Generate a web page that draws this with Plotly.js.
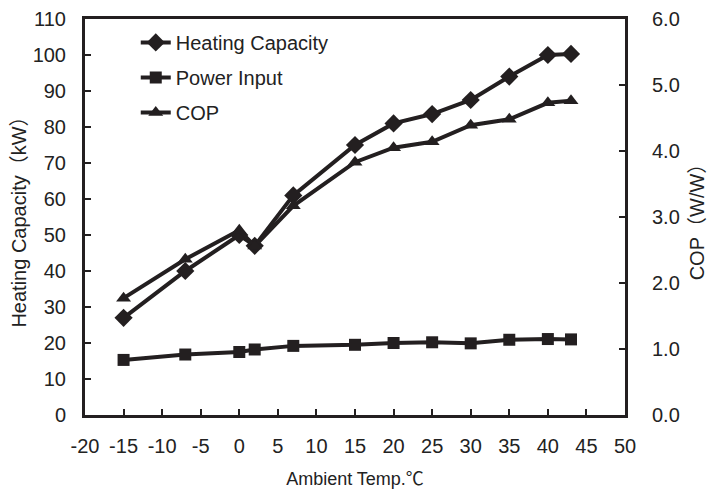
<!DOCTYPE html>
<html><head><meta charset="utf-8">
<script src="https://cdn.plot.ly/plotly-3.0.1.min.js"></script>
<style>body{margin:0;background:#fff}#c{width:723px;height:492px}</style>
</head><body><div id="c"></div>
<script>
const temps = [-15, -7, 0, 2, 7, 15, 20, 25, 30, 35, 40, 43];
const heatingCapacity = [27, 40, 50, 47, 61, 75, 81, 83.6, 87.5, 94, 100, 100.3];
const powerInput = [15.3, 16.8, 17.5, 18.2, 19.2, 19.5, 20, 20.2, 19.9, 20.9, 21.1, 21];
const cop = [1.77, 2.36, 2.8, 2.56, 3.17, 3.83, 4.05, 4.14, 4.39, 4.48, 4.73, 4.76];
const names = ['Heating Capacity', 'Power Input', 'COP'];
const xTickVals = [-20, -15, -10, -5, 0, 5, 10, 15, 20, 25, 30, 35, 40, 45, 50];
const xTickText = ['-20', '-15', '-10', '-5', '0', '5', '10', '15', '20', '25', '30', '35', '40', '45', '50'];

const fam = 'Liberation Sans, Noto Sans CJK SC, Arial, sans-serif';
const txt = '#222';
const line = {color: '#231f20', width: 4};
const traces = [
  {x: temps, y: heatingCapacity, name: names[0], legendgroup: 'a', mode: 'lines+markers', line: line, marker: {symbol: 'diamond', size: 14, color: '#231f20'}},
  {x: temps, y: powerInput, name: names[1], legendgroup: 'b', mode: 'lines+markers', line: line, marker: {symbol: 'square', size: 12, color: '#231f20'}},
  {x: temps, y: cop, name: names[2], legendgroup: 'c', mode: 'lines+markers', yaxis: 'y2', line: line, marker: {symbol: 'triangle-up', size: 13, color: '#231f20'}}
];
const axCommon = {showgrid: false, zeroline: false, showline: true, linecolor: '#231f20', linewidth: 3,
  ticks: 'inside', ticklen: 6, tickwidth: 2, tickcolor: '#231f20', tickfont: {family: fam, size: 20, color: txt}};
const layout = {
  width: 723, height: 492,
  margin: {l: 85, r: 98, t: 19, b: 77},
  paper_bgcolor: '#fff', plot_bgcolor: '#fff',
  font: {family: fam, size: 18, color: txt},
  showlegend: true,
  legend: {x: 0.094, y: 0.99, xanchor: 'left', yanchor: 'top', bgcolor: 'rgba(0,0,0,0)',
    font: {family: fam, size: 20, color: txt}, tracegroupgap: 6, traceorder: 'grouped'},
  xaxis: Object.assign({}, axCommon, {range: [-20, 50], tickvals: xTickVals, ticktext: xTickText, mirror: true,
    ticklabelstandoff: 11,
    title: {text: 'Ambient Temp.℃', font: {family: fam, size: 18, color: txt}, standoff: 17}}),
  yaxis: Object.assign({}, axCommon, {range: [0, 110], dtick: 10, ticklabelstandoff: 12,
    title: {text: 'Heating Capacity（kW）', font: {family: fam, size: 20, color: txt}, standoff: 1}}),
  yaxis2: Object.assign({}, axCommon, {range: [0, 6], dtick: 1, tickformat: '.1f', overlaying: 'y', side: 'right',
    ticklabelstandoff: 20,
    title: {text: 'COP（W/W）', font: {family: fam, size: 20, color: txt}, standoff: 12}})
};
Plotly.newPlot('c', traces, layout, {displayModeBar: false, staticPlot: true});
</script></body></html>
